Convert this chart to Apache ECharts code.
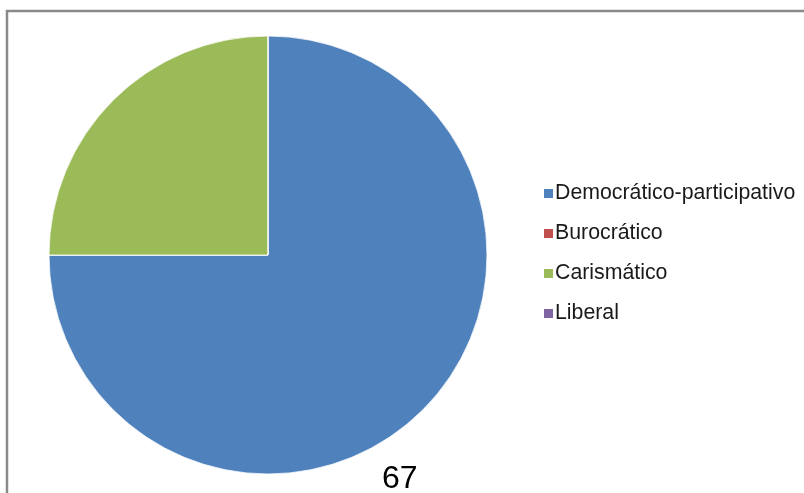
<!DOCTYPE html>
<html><head><meta charset="utf-8">
<script src="https://cdn.jsdelivr.net/npm/echarts@6/dist/echarts.min.js"></script>
<style>html,body{margin:0;padding:0;background:#fff}#c{width:804px;height:493px}</style>
</head><body><div id="c"></div>
<script>
const categories = ['Democrático-participativo', 'Burocrático', 'Carismático', 'Liberal'];
const values = [75, 0, 25, 0];
const colors = ['#4F81BD', '#C0504D', '#9BBB59', '#8064A2'];
const pageNumber = '67';

const chart = echarts.init(document.getElementById('c'), null, {renderer: 'canvas'});
chart.setOption({
  animation: false,
  backgroundColor: '#fff',
  color: colors,
  graphic: [
    {type: 'rect', shape: {x: 7, y: 11, width: 820, height: 500}, style: {fill: 'none', stroke: '#8a8a8a', lineWidth: 2.5}, z: 0},
    {type: 'text', z: 10, style: {x: 382, y: 479, text: pageNumber, font: '32px "Liberation Sans", Arial, sans-serif', fill: '#000', verticalAlign: 'middle'}}
  ],
  legend: {
    orient: 'vertical',
    left: 537,
    top: 176,
    icon: 'rect',
    itemWidth: 11,
    itemHeight: 11,
    itemGap: 15,
    textStyle: {fontSize: 21.3, lineHeight: 25, color: '#1a1a1a', fontFamily: '"Liberation Sans", Arial, sans-serif', padding: [0, 0, 0, -4]},
    data: categories
  },
  series: [{
    type: 'pie',
    center: [268, 255],
    radius: [0, 219],
    startAngle: 90,
    clockwise: true,
    label: {show: false},
    labelLine: {show: false},
    itemStyle: {borderColor: '#ffffff', borderWidth: 0.8},
    emphasis: {disabled: true},
    data: categories.map((n, i) => ({name: n, value: values[i]}))
  }]
});
</script></body></html>
